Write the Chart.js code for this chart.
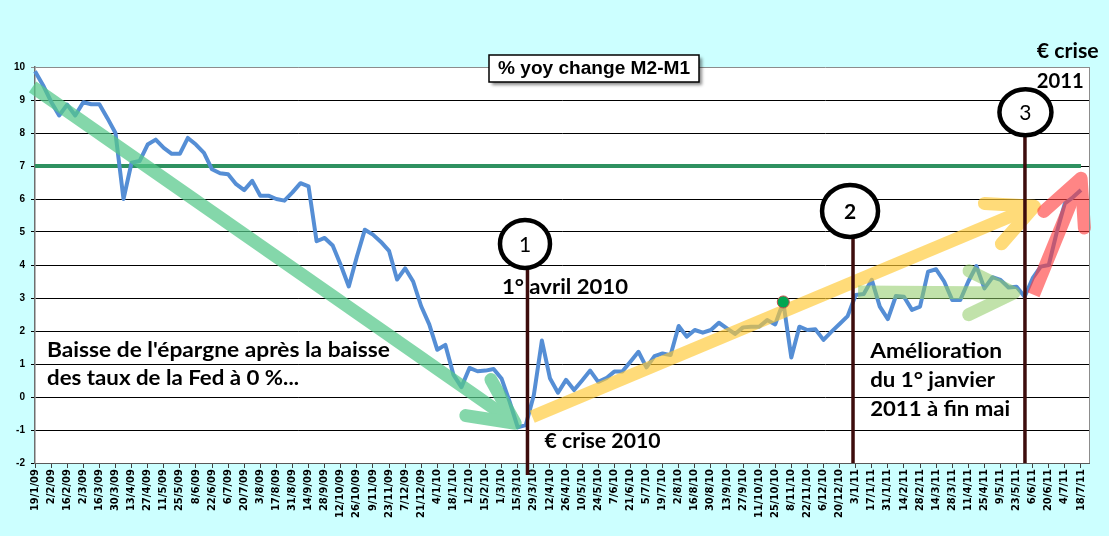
<!DOCTYPE html>
<html>
<head>
<meta charset="utf-8">
<script src="https://cdn.jsdelivr.net/npm/chart.js@4.4.1/dist/chart.umd.min.js"></script>
<style>
  body { margin: 0; background: #ccffff; }
  canvas { display: block; }
</style>
</head>
<body>
<canvas id="m2m1-chart" width="1109" height="536"></canvas>
<script>
// Weekly categories (d/m/yy), one tick label every two weeks
const weeks = [
  '19/1/09','26/1/09','2/2/09','9/2/09','16/2/09','23/2/09','2/3/09','9/3/09','16/3/09','23/3/09',
  '30/3/09','6/4/09','13/4/09','20/4/09','27/4/09','4/5/09','11/5/09','18/5/09','25/5/09','1/6/09',
  '8/6/09','15/6/09','22/6/09','29/6/09','6/7/09','13/7/09','20/7/09','27/7/09','3/8/09','10/8/09',
  '17/8/09','24/8/09','31/8/09','7/9/09','14/9/09','21/9/09','28/9/09','5/10/09','12/10/09','19/10/09',
  '26/10/09','2/11/09','9/11/09','16/11/09','23/11/09','30/11/09','7/12/09','14/12/09','21/12/09','28/12/09',
  '4/1/10','11/1/10','18/1/10','25/1/10','1/2/10','8/2/10','15/2/10','22/2/10','1/3/10','8/3/10',
  '15/3/10','22/3/10','29/3/10','5/4/10','12/4/10','19/4/10','26/4/10','3/5/10','10/5/10','17/5/10',
  '24/5/10','31/5/10','7/6/10','14/6/10','21/6/10','28/6/10','5/7/10','12/7/10','19/7/10','26/7/10',
  '2/8/10','9/8/10','16/8/10','23/8/10','30/8/10','6/9/10','13/9/10','20/9/10','27/9/10','4/10/10',
  '11/10/10','18/10/10','25/10/10','1/11/10','8/11/10','15/11/10','22/11/10','29/11/10','6/12/10','13/12/10',
  '20/12/10','27/12/10','3/1/11','10/1/11','17/1/11','24/1/11','31/1/11','7/2/11','14/2/11','21/2/11',
  '28/2/11','7/3/11','14/3/11','21/3/11','28/3/11','4/4/11','11/4/11','18/4/11','25/4/11','2/5/11',
  '9/5/11','16/5/11','23/5/11','30/5/11','6/6/11','13/6/11','20/6/11','27/6/11','4/7/11','11/7/11',
  '18/7/11','25/7/11'
];

// % yoy change M2-M1
const m2m1 = [
  9.87, 9.45, 8.95, 8.53, 8.86, 8.53, 8.93, 8.87, 8.87, 8.45,
  8.00, 6.00, 7.10, 7.15, 7.65, 7.80, 7.55, 7.37, 7.37, 7.85,
  7.65, 7.40, 6.90, 6.78, 6.75, 6.45, 6.27, 6.55, 6.10, 6.10,
  6.00, 5.95, 6.20, 6.48, 6.38, 4.72, 4.82, 4.59, 4.00, 3.35,
  4.25, 5.07, 4.92, 4.70, 4.43, 3.56, 3.90, 3.50, 2.75, 2.20,
  1.43, 1.58, 0.68, 0.30, 0.88, 0.78, 0.80, 0.85, 0.55, -0.15,
  -0.92, -0.85, 0.06, 1.71, 0.57, 0.13, 0.52, 0.21, 0.50, 0.80,
  0.46, 0.57, 0.77, 0.77, 1.07, 1.37, 0.90, 1.24, 1.32, 1.27,
  2.15, 1.83, 2.03, 1.95, 2.03, 2.25, 2.08, 1.91, 2.11, 2.13,
  2.13, 2.33, 2.20, 2.88, 1.20, 2.13, 2.03, 2.05, 1.73, 1.98,
  2.21, 2.45, 3.09, 3.12, 3.55, 2.74, 2.36, 3.06, 3.04, 2.64,
  2.74, 3.80, 3.87, 3.50, 2.94, 2.94, 3.50, 3.97, 3.29, 3.63,
  3.55, 3.32, 3.34, 3.04, 3.60, 3.95, 4.00, 5.00, 5.87, 6.05,
  6.27, null
];

const threshold = 7;          // horizontal reference line
const highlightWeek = 93;     // green dot, 1/11/10
const yMin = -2, yMax = 10;

// Annotations in data units: [week index, value]
const arrows = [
  { from: [-0.3, 9.4],  to: [60.3, -0.9],  color: '#55c98a', alpha: 0.72 },
  { from: [61.8, -0.6], to: [124.9, 5.85], color: '#ffc933', alpha: 0.65 },
  { from: [102.3, 3.18], to: [122.4, 3.15], color: '#8fcc66', alpha: 0.55 },
  { from: [124.1, 3.1], to: [130.3, 6.8],  color: '#ff3b3b', alpha: 0.62 }
];
const markers = [
  { text: '1', at: [60.9, 4.64],  rx: 25, ry: 24, line: 61.21, bottom: -2.36, bold: false },
  { text: '2', at: [101.3, 5.64], rx: 28, ry: 26, line: 101.67, bottom: -2, bold: true },
  { text: '3', at: [123.1, 8.63], rx: 26, ry: 23, line: 123.04, bottom: -2, bold: false }
];
const notes = [
  { text: "Baisse de l'épargne après la baisse", at: [1.49, 1.21], w: 343 },
  { text: 'des taux de la Fed à 0 %...', at: [1.49, 0.36], w: 252 },
  { text: '1° avril 2010', at: [58.04, 3.12], w: 126 },
  { text: '€ crise 2010', at: [63.33, -1.55], w: 116 },
  { text: 'Amélioration', at: [103.8, 1.18], w: 132 },
  { text: 'du 1° janvier', at: [103.8, 0.30], w: 125 },
  { text: '2011 à fin mai', at: [103.8, -0.58], w: 140 },
  { text: '€ crise', at: [124.5, 10.27], w: 62 },
  { text: '2011', at: [124.5, 9.36], w: 47 }
];
const chartTitle = '% yoy change M2-M1';

function fitText(ctx, txt, x, y, w, font) {
  ctx.font = font;
  const m = ctx.measureText(txt).width;
  ctx.save();
  ctx.translate(x, y);
  ctx.scale(w / m, 1);
  ctx.fillText(txt, 0, 0);
  ctx.restore();
}

const offscreen = document.createElement('canvas');

function drawArrow(ctx, x1, y1, x2, y2, color, alpha) {
  const o = offscreen.getContext('2d');
  o.clearRect(0, 0, offscreen.width, offscreen.height);
  const ang = Math.atan2(y2 - y1, x2 - x1);
  const tx = x2 - Math.cos(ang) * 6, ty = y2 - Math.sin(ang) * 6;
  const L = 50, a = 26 * Math.PI / 180;
  o.strokeStyle = color;
  o.lineWidth = 13;
  o.lineCap = 'butt';
  o.beginPath();
  o.moveTo(x1, y1);
  o.lineTo(tx, ty);
  o.stroke();
  o.lineCap = 'round';
  o.lineJoin = 'round';
  o.beginPath();
  o.moveTo(tx - L * Math.cos(ang - a), ty - L * Math.sin(ang - a));
  o.lineTo(tx, ty);
  o.lineTo(tx - L * Math.cos(ang + a), ty - L * Math.sin(ang + a));
  o.stroke();
  ctx.save();
  ctx.globalAlpha = alpha;
  ctx.drawImage(offscreen, 0, 0);
  ctx.restore();
}

const annotations = {
  id: 'annotations',
  beforeDraw(chart) {
    const { ctx, chartArea: a } = chart;
    ctx.save();
    ctx.fillStyle = '#ffffff';
    ctx.fillRect(a.left, a.top, a.right - a.left, a.bottom - a.top);
    ctx.restore();
  },
  afterDatasetsDraw(chart) {
    const { ctx, scales: { x, y } } = chart;
    offscreen.width = chart.width;
    offscreen.height = chart.height;
    arrows.forEach(ar => {
      drawArrow(ctx,
        x.getPixelForValue(ar.from[0]), y.getPixelForValue(ar.from[1]),
        x.getPixelForValue(ar.to[0]), y.getPixelForValue(ar.to[1]),
        ar.color, ar.alpha);
    });
    // highlighted point sits above the arrows
    const pt = chart.getDatasetMeta(1).data[highlightWeek];
    ctx.save();
    ctx.beginPath();
    ctx.arc(pt.x, pt.y, 6, 0, Math.PI * 2);
    ctx.fillStyle = '#00a651';
    ctx.fill();
    ctx.strokeStyle = '#c0504d';
    ctx.lineWidth = 1;
    ctx.stroke();
    ctx.restore();
  },
  afterDraw(chart) {
    const { ctx, chartArea: area, scales: { x, y } } = chart;
    ctx.save();
    // right border of the plot area
    ctx.strokeStyle = '#8c8c8c';
    ctx.lineWidth = 1;
    ctx.beginPath();
    ctx.moveTo(area.right + 0.5, area.top);
    ctx.lineTo(area.right + 0.5, area.bottom);
    ctx.stroke();

    // vertical lines + numbered circles
    markers.forEach(m => {
      const cx = x.getPixelForValue(m.at[0]);
      const cy = y.getPixelForValue(m.at[1]);
      const lx = x.getPixelForValue(m.line);
      ctx.strokeStyle = '#3d0c0c';
      ctx.lineWidth = 3.5;
      ctx.beginPath();
      ctx.moveTo(lx, cy + m.ry);
      ctx.lineTo(lx, y.getPixelForValue(m.bottom));
      ctx.stroke();
      ctx.beginPath();
      ctx.ellipse(cx, cy, m.rx, m.ry, 0, 0, Math.PI * 2);
      ctx.fillStyle = '#ffffff';
      ctx.fill();
      ctx.strokeStyle = '#000000';
      ctx.lineWidth = 4.5;
      ctx.stroke();
      ctx.fillStyle = '#000000';
      ctx.font = (m.bold ? 'bold ' : '') + '21px Lato';
      ctx.textAlign = 'center';
      ctx.textBaseline = 'middle';
      ctx.fillText(m.text, cx, cy + 1);
    });

    // text notes
    ctx.textAlign = 'left';
    ctx.textBaseline = 'alphabetic';
    ctx.fillStyle = '#000000';
    notes.forEach(n => {
      fitText(ctx, n.text, x.getPixelForValue(n.at[0]), y.getPixelForValue(n.at[1]), n.w, 'bold 21px Lato');
    });

    // title box
    const bx = 489, by = 55, bw = 210, bh = 27;
    ctx.save();
    ctx.shadowColor = 'rgba(0,0,0,0.45)';
    ctx.shadowOffsetX = 3;
    ctx.shadowOffsetY = 3;
    ctx.shadowBlur = 3;
    ctx.fillStyle = '#ffffff';
    ctx.fillRect(bx, by, bw, bh);
    ctx.restore();
    ctx.strokeStyle = '#000000';
    ctx.lineWidth = 1.5;
    ctx.strokeRect(bx, by, bw, bh);
    ctx.fillStyle = '#000000';
    ctx.textAlign = 'left';
    ctx.textBaseline = 'middle';
    fitText(ctx, chartTitle, bx + 9, by + bh / 2 + 1, 192, 'bold 18px "Liberation Sans", Arial');
    ctx.restore();
  }
};

const ctx = document.getElementById('m2m1-chart').getContext('2d');
const m2m1Chart = new Chart(ctx, {
  type: 'line',
  data: {
    labels: weeks,
    datasets: [{
      label: 'seuil',
      data: [{ x: weeks[0], y: threshold }, { x: weeks[130], y: threshold }],
      borderColor: '#2e9160',
      borderWidth: 4,
      pointRadius: 0,
      order: 2
    }, {
      label: '% yoy change M2-M1',
      data: m2m1,
      borderColor: '#558ed5',
      borderWidth: 4,
      borderJoinStyle: 'round',
      tension: 0,
      pointRadius: 0,
      order: 1
    }]
  },
  options: {
    responsive: false,
    animation: false,
    devicePixelRatio: 1,
    layout: { padding: { top: 67, right: 20, left: 0, bottom: 0 } },
    plugins: {
      legend: { display: false },
      tooltip: { enabled: false }
    },
    scales: {
      x: {
        type: 'category',
        offset: false,
        afterFit: s => { s.height = 73; },
        border: { color: '#595959', width: 1 },
        grid: {
          drawOnChartArea: false,
          drawTicks: true,
          tickLength: 5,
          color: c => c.index % 2 === 0 ? '#404040' : 'rgba(0,0,0,0)'
        },
        ticks: {
          autoSkip: false,
          maxRotation: 90,
          minRotation: 90,
          padding: 1,
          color: '#000000',
          font: { family: '"DejaVu Sans"', size: 10, weight: 'bold' },
          callback: (v, i) => i % 2 === 0 ? weeks[i] : ''
        }
      },
      y: {
        min: yMin,
        max: yMax,
        afterFit: s => { s.width = 35; },
        border: { color: '#6e6e6e', width: 1.5 },
        grid: {
          color: c => c.tick && c.tick.value === yMax ? '#8c8c8c' : '#000000',
          lineWidth: 1,
          tickLength: 4
        },
        ticks: {
          stepSize: 1,
          padding: 6,
          color: '#000000',
          font: { family: '"Liberation Sans", Arial', size: 10, weight: 'bold' }
        }
      }
    }
  },
  plugins: [annotations]
});
</script>
</body>
</html>
